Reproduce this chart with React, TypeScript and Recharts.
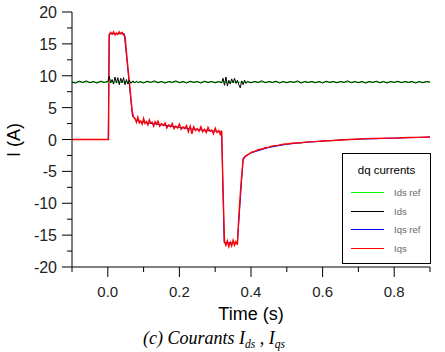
import React from 'react';
import { LineChart, Line, XAxis, YAxis, Legend, Label } from 'recharts';

const FONT = '"Liberation Sans", Arial, sans-serif';

const xTicks = [-0.1, 0, 0.1, 0.2, 0.3, 0.4, 0.5, 0.6, 0.7, 0.8, 0.9];
const yTicks = [-20, -17.5, -15, -12.5, -10, -7.5, -5, -2.5, 0, 2.5, 5, 7.5, 10, 12.5, 15, 17.5, 20];

const legendItems = [
  { name: 'Ids ref', color: '#00ff00' },
  { name: 'Ids', color: '#000000' },
  { name: 'Iqs ref', color: '#0000ff' },
  { name: 'Iqs', color: '#ff0000' },
];

// Ids reference (A)
const idsRefPoints: [number, number][] = [[-0.1, 9], [0.9, 9]];

// Ids measured (A)
const idsPoints: [number, number][] = [
  [-0.10, 9.0], [-0.09, 8.85], [-0.08, 9.15], [-0.07, 8.95], [-0.06, 9.2], [-0.05, 8.9], [-0.04, 9.1], [-0.03, 8.85], [-0.02, 9.15], [-0.01, 8.95],
  [0.000, 9.1], [0.004, 9.9], [0.008, 8.9], [0.012, 9.4], [0.016, 8.7], [0.020, 9.8], [0.024, 8.9], [0.028, 9.7], [0.032, 8.6], [0.036, 9.6],
  [0.040, 8.9], [0.044, 9.7], [0.048, 8.6], [0.052, 9.4], [0.056, 8.7], [0.060, 9.3], [0.065, 8.8], [0.070, 9.2], [0.075, 8.85], [0.080, 9.15],
  [0.085, 8.9], [0.090, 9.1],
  [0.10, 8.85], [0.11, 9.15], [0.12, 8.95], [0.13, 9.2], [0.14, 8.9], [0.15, 9.1], [0.16, 8.85], [0.17, 9.1], [0.18, 8.95], [0.19, 9.2],
  [0.20, 8.9], [0.21, 9.1], [0.22, 8.85], [0.23, 9.15], [0.24, 8.95], [0.25, 9.1], [0.26, 8.85], [0.27, 9.15], [0.28, 8.95], [0.29, 9.1],
  [0.30, 8.9], [0.31, 9.1],
  [0.318, 8.9], [0.322, 9.6], [0.326, 8.5], [0.330, 9.8], [0.334, 8.4], [0.338, 9.3], [0.342, 8.7], [0.346, 9.5], [0.350, 8.9], [0.354, 9.6],
  [0.358, 8.8], [0.362, 9.3], [0.366, 8.6], [0.370, 8.1], [0.374, 9.2], [0.378, 8.6], [0.382, 9.3], [0.386, 8.8], [0.390, 9.1],
  [0.40, 8.9], [0.41, 9.1], [0.42, 8.95], [0.43, 9.2], [0.44, 8.9], [0.45, 9.1], [0.46, 8.95], [0.47, 9.15], [0.48, 8.85], [0.49, 9.1],
  [0.50, 8.9], [0.51, 9.1], [0.52, 8.95], [0.53, 9.2], [0.54, 8.85], [0.55, 9.1], [0.56, 8.95], [0.57, 9.1], [0.58, 8.9], [0.59, 9.1],
  [0.60, 8.85], [0.61, 9.15], [0.62, 8.95], [0.63, 9.1], [0.64, 8.9], [0.65, 9.1], [0.66, 8.95], [0.67, 9.2], [0.68, 8.9], [0.69, 9.1],
  [0.70, 8.9], [0.71, 9.1], [0.72, 8.85], [0.73, 9.1], [0.74, 8.95], [0.75, 9.15], [0.76, 8.9], [0.77, 9.1], [0.78, 8.85], [0.79, 9.1],
  [0.80, 8.95], [0.81, 9.15], [0.82, 8.9], [0.83, 9.1], [0.84, 8.95], [0.85, 9.1], [0.86, 8.85], [0.87, 9.1], [0.88, 8.9], [0.89, 9.1],
  [0.90, 9.0],
];

// Iqs reference (A)
const iqsRefPoints: [number, number][] = [
  [-0.1, 0], [0.001, 0], [0.004, 16.6], [0.046, 16.6], [0.069, 3.6], [0.08, 3.0], [0.1, 2.7], [0.15, 2.3], [0.2, 1.9],
  [0.25, 1.55], [0.3, 1.3], [0.318, 1.2], [0.325, -16.2], [0.362, -16.2], [0.378, -2.9], [0.4, -2.1], [0.45, -1.25],
  [0.5, -0.75], [0.55, -0.45], [0.6, -0.25], [0.65, -0.08], [0.7, 0.05], [0.8, 0.22], [0.9, 0.38],
];

// Iqs measured (A)
const iqsPoints: [number, number][] = [
  [-0.1, 0.0], [0.0, 0.0], [0.002, 0.0], [0.004, 16.4], [0.008, 16.8], [0.012, 16.5], [0.016, 16.9], [0.020, 16.4], [0.024, 16.7],
  [0.028, 16.5], [0.032, 16.9], [0.036, 16.6], [0.040, 16.8], [0.044, 16.4], [0.048, 16.2], [0.055, 12.0], [0.062, 8.0], [0.068, 4.5],
  [0.072, 3.5], [0.076, 3.3], [0.080, 2.7], [0.084, 3.5], [0.088, 2.6], [0.092, 2.9], [0.096, 2.4], [0.100, 3.3], [0.104, 2.5],
  [0.108, 2.8], [0.112, 2.3], [0.116, 3.1], [0.120, 2.6], [0.124, 2.7], [0.128, 2.1], [0.132, 2.8], [0.136, 2.4], [0.140, 2.9],
  [0.145, 2.1], [0.150, 2.5], [0.155, 2.2], [0.160, 2.6], [0.165, 1.8], [0.170, 2.3], [0.175, 2.0], [0.180, 2.5], [0.185, 1.7],
  [0.190, 2.1], [0.195, 1.8], [0.200, 2.4], [0.205, 1.6], [0.210, 2.0], [0.215, 1.7], [0.220, 2.2], [0.225, 1.2], [0.230, 2.1],
  [0.235, 0.9], [0.240, 2.0], [0.245, 1.4], [0.250, 1.7], [0.255, 1.3], [0.260, 2.0], [0.265, 1.2], [0.270, 1.6], [0.275, 1.1],
  [0.280, 1.9], [0.285, 1.3], [0.290, 1.5], [0.295, 0.9], [0.300, 1.8], [0.305, 1.1], [0.310, 1.4], [0.314, 0.8], [0.318, 1.4],
  [0.322, -8.0], [0.326, -16.0], [0.330, -16.6], [0.334, -15.9], [0.338, -16.8], [0.342, -16.1], [0.346, -16.7], [0.350, -15.8],
  [0.354, -16.6], [0.358, -16.0], [0.362, -16.5], [0.366, -12.0], [0.372, -7.0], [0.378, -3.2], [0.384, -2.6], [0.390, -2.4],
  [0.396, -2.2], [0.402, -2.0], [0.410, -1.85], [0.420, -1.6], [0.430, -1.5], [0.440, -1.3], [0.450, -1.2], [0.460, -1.0],
  [0.475, -0.92], [0.490, -0.72], [0.505, -0.66], [0.520, -0.55], [0.540, -0.5], [0.560, -0.38], [0.580, -0.33], [0.600, -0.24],
  [0.630, -0.16], [0.660, -0.04], [0.690, 0.04], [0.720, 0.13], [0.750, 0.16], [0.780, 0.22], [0.810, 0.23], [0.840, 0.31],
  [0.870, 0.34], [0.900, 0.4],
];

const toData = (pts: [number, number][]) => pts.map(([t, v]) => ({ t, v }));

const XTick = (props: any) => {
  const { x, y, payload } = props;
  const v = payload.value as number;
  const major = Math.round(v * 10) % 2 === 0;
  return (
    <g>
      <line x1={x} x2={x} y1={y} y2={y + (major ? 10 : 5)} stroke="#000" strokeWidth={1} />
      {major && (
        <text x={x} y={y + 30} textAnchor="middle" fontSize={15} fontFamily={FONT} fill="#222">
          {v.toFixed(1)}
        </text>
      )}
    </g>
  );
};

const YTick = (props: any) => {
  const { x, y, payload } = props;
  const v = payload.value as number;
  const major = Math.round(v * 2) % 10 === 0;
  return (
    <g>
      <line x1={x - (major ? 10 : 5)} x2={x} y1={y} y2={y} stroke="#000" strokeWidth={1} />
      {major && (
        <text x={x - 15} y={y + 6} textAnchor="end" fontSize={16} fontFamily={FONT} fill="#222">
          {String(v)}
        </text>
      )}
    </g>
  );
};

const renderLegend = () => (
  <div
    style={{
      width: 89,
      height: 111,
      border: '1px solid #000',
      boxSizing: 'border-box',
      background: '#fff',
      position: 'relative',
      fontFamily: FONT,
    }}
  >
    <div style={{ position: 'absolute', top: 10, left: 0, width: '100%', textAlign: 'center', fontSize: 11.5, lineHeight: '13px', color: '#000' }}>
      dq currents
    </div>
    {legendItems.map((it, i) => (
      <div key={it.name} style={{ position: 'absolute', left: 0, top: 39 + i * 18.7 - 6, height: 12, width: '100%' }}>
        <div style={{ position: 'absolute', left: 8, top: 5, width: 33, height: 1, background: it.color }} />
        <div style={{ position: 'absolute', left: 51, top: 0, fontSize: 9.5, lineHeight: '12px', color: '#666' }}>{it.name}</div>
      </div>
    ))}
  </div>
);

export default function App() {
  return (
    <div style={{ position: 'absolute', left: 0, top: 0, width: 445, height: 352, background: '#fff' }}>
      <LineChart width={445} height={352} margin={{ top: 12, right: 15, bottom: 0, left: 0 }}>
        <XAxis
          dataKey="t"
          type="number"
          domain={[-0.1, 0.9]}
          ticks={xTicks}
          allowDataOverflow
          height={85}
          tickSize={0}
          tickMargin={0}
          tick={<XTick />}
          axisLine={{ stroke: '#000', strokeWidth: 1 }}
          tickLine={false}
          interval={0}
        >
          <Label
            content={() => (
              <text x={251} y={320} textAnchor="middle" fontSize={18} fontFamily={FONT} fill="#000">
                Time (s)
              </text>
            )}
          />
        </XAxis>
        <YAxis
          type="number"
          domain={[-20, 20]}
          ticks={yTicks}
          allowDataOverflow
          width={72}
          tickSize={0}
          tickMargin={0}
          tick={<YTick />}
          axisLine={{ stroke: '#000', strokeWidth: 1 }}
          tickLine={false}
          interval={0}
        >
          <Label
            content={() => (
              <text
                x={14}
                y={140}
                transform="rotate(-90, 14, 140)"
                textAnchor="middle"
                dominantBaseline="central"
                fontSize={18}
                fontFamily={FONT}
                fill="#000"
              >
                I (A)
              </text>
            )}
          />
        </YAxis>
        <Line data={toData(iqsRefPoints)} dataKey="v" name="Iqs ref" stroke="#0000ff" strokeWidth={1} dot={false} type="linear" isAnimationActive={false} />
        <Line data={toData(iqsPoints)} dataKey="v" name="Iqs" stroke="#ff0000" strokeWidth={1.4} dot={false} type="linear" isAnimationActive={false} />
        <Line data={toData(idsRefPoints)} dataKey="v" name="Ids ref" stroke="#00ff00" strokeWidth={1} dot={false} type="linear" isAnimationActive={false} />
        <Line data={toData(idsPoints)} dataKey="v" name="Ids" stroke="#000000" strokeWidth={1} dot={false} type="linear" isAnimationActive={false} />
        <Legend
          layout="horizontal"
          verticalAlign="middle"
          align="center"
          content={renderLegend}
          wrapperStyle={{ position: 'absolute', left: 342, top: 153, width: 89, height: 111 }}
        />
      </LineChart>
      <div
        style={{
          position: 'absolute',
          left: 143,
          top: 329,
          fontFamily: '"Liberation Serif", "Times New Roman", serif',
          fontStyle: 'italic',
          fontSize: 18,
          lineHeight: '18px',
          whiteSpace: 'nowrap',
          color: '#000',
        }}
      >
        (c) Courants I<span style={{ fontSize: 11.5, position: 'relative', top: 4 }}>ds</span> , I
        <span style={{ fontSize: 11.5, position: 'relative', top: 4 }}>qs</span>
      </div>
    </div>
  );
}
